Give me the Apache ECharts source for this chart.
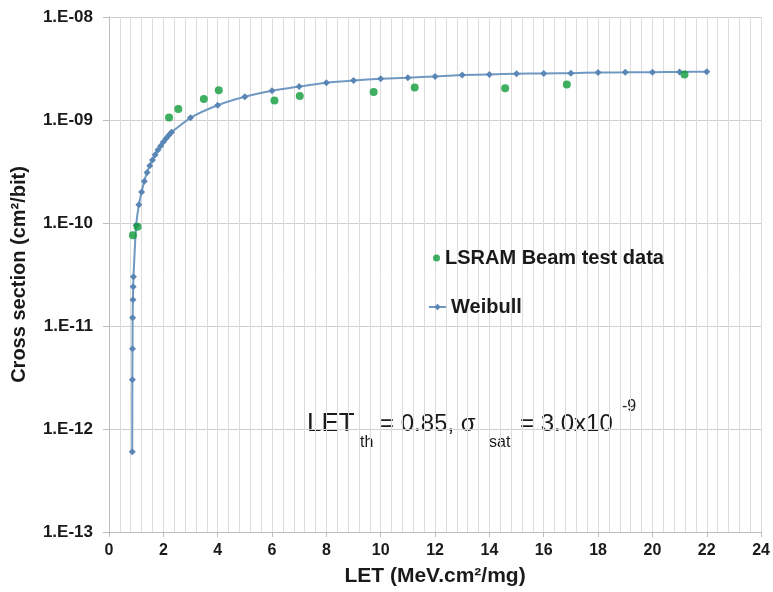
<!DOCTYPE html>
<html>
<head>
<meta charset="utf-8">
<script src="https://cdn.jsdelivr.net/npm/echarts@6/dist/echarts.min.js"></script>
<style>
html,body{margin:0;padding:0;background:#fff;}
#chart{width:773px;height:592px;}
</style>
</head>
<body>
<div id="chart"></div>
<script>
// Weibull fit curve (LET, cross section)
const weibullX = [0.855, 0.86, 0.865, 0.87, 0.88, 0.89, 0.9, 1.0, 1.1, 1.2, 1.3, 1.4, 1.5, 1.6, 1.7, 1.8, 1.9, 2.0, 2.1, 2.2, 2.3,
                  3, 4, 5, 6, 7, 8, 9, 10, 11, 12, 13, 14, 15, 16, 17, 18, 19, 20, 21, 22];
const weibullY = [6e-13, 3e-12, 6e-12, 1.2e-11, 1.8e-11, 2.4e-11, 3e-11, 9.5e-11, 1.5e-10, 2.0e-10, 2.55e-10, 3.1e-10, 3.6e-10, 4.1e-10, 4.6e-10, 5.1e-10, 5.6e-10, 6.1e-10, 6.6e-10, 7.1e-10, 7.6e-10,
                  1.05e-9, 1.39e-9, 1.68e-9, 1.92e-9, 2.11e-9, 2.30e-9, 2.42e-9, 2.51e-9, 2.57e-9, 2.65e-9, 2.73e-9, 2.77e-9, 2.81e-9, 2.83e-9, 2.85e-9, 2.89e-9, 2.90e-9, 2.91e-9, 2.93e-9, 2.94e-9];
// LSRAM beam test data
const beamX = [0.88, 1.05, 2.21, 2.55, 3.49, 4.04, 6.09, 7.02, 9.74, 11.25, 14.58, 16.85, 21.18];
const beamY = [7.6e-11, 9.2e-11, 1.06e-9, 1.28e-9, 1.60e-9, 1.94e-9, 1.55e-9, 1.71e-9, 1.87e-9, 2.07e-9, 2.03e-9, 2.21e-9, 2.77e-9];
// Axis tick definitions
const xTicks = {min: 0, max: 24, interval: 2};
const yTicks = {min: 1e-13, max: 1e-8};
const seriesNames = ['LSRAM Beam test data', 'Weibull'];

const weibullData = weibullX.map((x, i) => [x, weibullY[i]]);
const beamData = beamX.map((x, i) => [x, beamY[i]]);

const chart = echarts.init(document.getElementById('chart'), null, {renderer: 'canvas'});
const gridColor = '#dcdcdc';
const option = {
  animation: false,
  backgroundColor: '#ffffff',
  grid: {left: 109, right: 11, top: 17, bottom: 58, containLabel: false},
  legend: [
    {
      data: [seriesNames[0]], orient: 'vertical', left: 428, top: 243,
      itemWidth: 7, itemHeight: 7, itemGap: 5,
      textStyle: {fontFamily: 'Arial, Liberation Sans', fontWeight: 'bold', fontSize: 20, color: '#1a1a1a'}
    },
    {
      data: [seriesNames[1]], orient: 'vertical', left: 423, top: 292,
      itemWidth: 17, itemHeight: 8, itemGap: 3,
      textStyle: {fontFamily: 'Arial, Liberation Sans', fontWeight: 'bold', fontSize: 20, color: '#1a1a1a'}
    }
  ],
  xAxis: {
    type: 'value', min: xTicks.min, max: xTicks.max, interval: xTicks.interval,
    name: 'LET (MeV.cm²/mg)', nameLocation: 'middle', nameGap: 34,
    nameTextStyle: {fontFamily: 'Arial, Liberation Sans', fontWeight: 'bold', fontSize: 21, color: '#1a1a1a'},
    axisLine: {show: true, onZero: false, lineStyle: {color: '#bdbdbd', width: 1}},
    axisTick: {show: true, length: 5, lineStyle: {color: '#bdbdbd'}},
    minorTick: {show: false, splitNumber: 5},
    axisLabel: {margin: 11, fontFamily: 'Arial, Liberation Sans', fontWeight: 'bold', fontSize: 16, color: '#1a1a1a'},
    splitLine: {show: true, lineStyle: {color: gridColor, width: 1}},
    minorSplitLine: {show: true, lineStyle: {color: gridColor, width: 1}}
  },
  yAxis: {
    type: 'log', logBase: 10, min: yTicks.min, max: yTicks.max,
    name: 'Cross section (cm²/bit)', nameLocation: 'middle', nameGap: 80,
    nameTextStyle: {fontFamily: 'Arial, Liberation Sans', fontWeight: 'bold', fontSize: 20, color: '#1a1a1a'},
    axisLine: {show: true, lineStyle: {color: '#bdbdbd', width: 1}},
    axisTick: {show: true, length: 6, lineStyle: {color: '#bdbdbd'}},
    axisLabel: {
      margin: 16, fontFamily: 'Arial, Liberation Sans', fontWeight: 'bold', fontSize: 17, color: '#1a1a1a',
      formatter: function (v) {
        const e = Math.round(Math.log10(v));
        const a = Math.abs(e);
        return '1.E' + (e < 0 ? '-' : '+') + (a < 10 ? '0' + a : a);
      }
    },
    splitLine: {show: true, lineStyle: {color: '#d0d0d0', width: 1}}
  },
  series: [
    {
      name: seriesNames[1], type: 'line', data: weibullData,
      smooth: 0.2,
      symbol: 'diamond', symbolSize: 7, showSymbol: true,
      lineStyle: {color: '#7099c2', width: 2},
      itemStyle: {color: '#5a86b6'},
      z: 2
    },
    {
      name: seriesNames[0], type: 'scatter', data: beamData,
      symbol: 'circle', symbolSize: 8,
      itemStyle: {color: '#0f9b3a'},
      z: 3
    }
  ],
  graphic: [
    {type: 'text', left: 307, top: 411, style: {text: 'LET', font: '26px Arial, Liberation Sans', fill: '#1a1a1a'}},
    {type: 'text', left: 360, top: 435, style: {text: 'th', font: '16px Arial, Liberation Sans', fill: '#1a1a1a'}},
    {type: 'text', left: 380, top: 412, style: {text: '= 0.85, σ', font: '24px Arial, Liberation Sans', fill: '#1a1a1a'}},
    {type: 'text', left: 489, top: 435, style: {text: 'sat', font: '16px Arial, Liberation Sans', fill: '#1a1a1a'}},
    {type: 'text', left: 520, top: 412, style: {text: '= 3.0x10', font: '24px Arial, Liberation Sans', fill: '#1a1a1a'}},
    {type: 'text', left: 622, top: 399, style: {text: '-9', font: '16px Arial, Liberation Sans', fill: '#1a1a1a'}}
  ]
};
chart.setOption(option);
</script>
</body>
</html>
